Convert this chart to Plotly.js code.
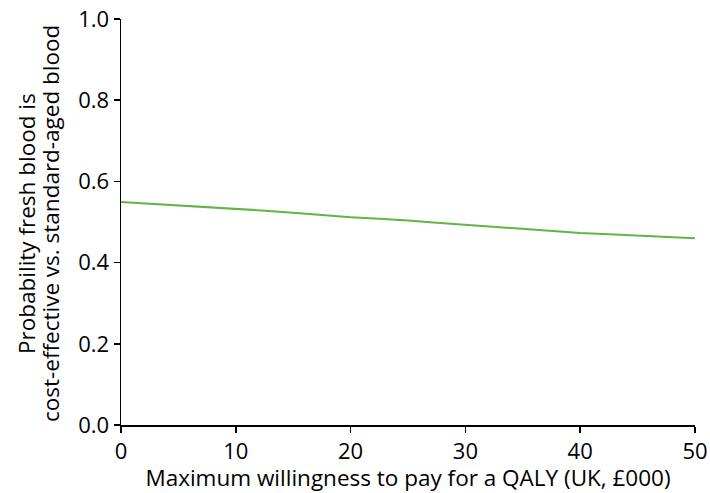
<!DOCTYPE html>
<html>
<head>
<meta charset="utf-8">
<script src="https://cdn.plot.ly/plotly-3.0.1.min.js"></script>
<style>
  html, body { margin: 0; padding: 0; background: #fff; }
  #chart { width: 710px; height: 493px; }
</style>
</head>
<body>
<div id="chart"></div>
<script>
// Willingness-to-pay thresholds (£000 per QALY)
const wtp = [0, 2.5, 5, 7.5, 10, 12.5, 15, 17.5, 20, 22.5, 25,
             27.5, 30, 32.5, 35, 37.5, 40, 42.5, 45, 47.5, 50];
// Probability that fresh blood is cost-effective
const probFresh = [0.549, 0.545, 0.541, 0.536, 0.532, 0.528, 0.523, 0.517, 0.512, 0.508, 0.504,
                   0.498, 0.493, 0.488, 0.483, 0.477, 0.473, 0.470, 0.467, 0.463, 0.460];
const xTicks = [0, 10, 20, 30, 40, 50];
const yTicks = [0, 0.2, 0.4, 0.6, 0.8, 1.0];
const yTitleLines = ['Probability fresh blood is', 'cost-effective vs. standard-aged blood'];

const font = 'Open Sans';
const fs = 22;
const titleFs = 22.5;

// plot-area geometry (pixels)
const W = 710, H = 493, mL = 121, mR = 15, mT = 19, mB = 68;
const plotW = W - mL - mR;
const toPaperX = px => (px - mL) / plotW;

Plotly.newPlot('chart', [{
  x: wtp,
  y: probFresh,
  type: 'scatter',
  mode: 'lines',
  line: { color: 'rgb(98,180,70)', width: 2 },
  hoverinfo: 'skip'
}], {
  width: W,
  height: H,
  margin: { l: mL, r: mR, t: mT, b: mB },
  paper_bgcolor: '#fff',
  plot_bgcolor: '#fff',
  showlegend: false,
  font: { family: font, size: fs, color: '#000' },
  xaxis: {
    range: [0, 50],
    tickvals: xTicks,
    ticktext: xTicks.map(String),
    ticks: 'outside', ticklen: 6, tickwidth: 1.5, tickcolor: '#000',
    showline: true, linecolor: '#000', linewidth: 1.5,
    showgrid: false, zeroline: false,
    tickfont: { family: font, size: fs, color: '#000' },
    title: { text: 'Maximum willingness to pay for a QALY (UK, £000)',
             font: { family: font, size: titleFs, color: '#000' }, standoff: 6 }
  },
  yaxis: {
    range: [0, 1.0],
    tickvals: yTicks,
    ticktext: yTicks.map(v => v.toFixed(1)),
    ticks: 'outside', ticklen: 6, tickwidth: 1.5, tickcolor: '#000',
    showline: true, linecolor: '#000', linewidth: 1.5,
    showgrid: false, zeroline: false,
    tickfont: { family: font, size: fs, color: '#000' }
  },
  // two-line vertical axis title, set line by line for tighter leading
  annotations: yTitleLines.map((t, i) => ({
    text: t,
    xref: 'paper', yref: 'paper',
    x: toPaperX(i === 0 ? 26 : 50), y: 0.495,
    xanchor: 'center', yanchor: 'middle',
    textangle: -90, showarrow: false,
    font: { family: font, size: titleFs, color: '#000' }
  }))
}, { displayModeBar: false, staticPlot: true });
</script>
</body>
</html>
